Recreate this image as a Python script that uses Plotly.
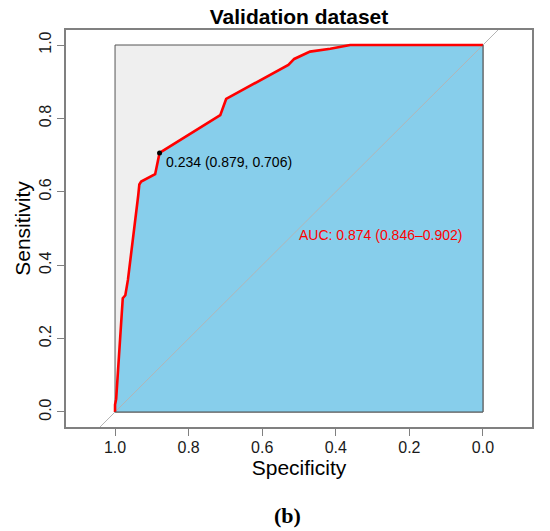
import plotly.graph_objects as go

# ROC curve (specificity, sensitivity)
specificity = [1.0, 1.0, 0.997, 0.979, 0.972, 0.965, 0.937, 0.934, 0.929, 0.891,
               0.879, 0.714, 0.698, 0.529, 0.513, 0.470, 0.415, 0.361, 0.0]
sensitivity = [0.0, 0.02, 0.035, 0.31, 0.318, 0.36, 0.59, 0.62, 0.628, 0.648,
               0.706, 0.809, 0.853, 0.946, 0.962, 0.982, 0.99, 1.0, 1.0]

best_threshold = 0.234
best_spec = 0.879
best_sens = 0.706
auc_value = 0.874
auc_ci = (0.846, 0.902)

tick_vals = [1.0, 0.8, 0.6, 0.4, 0.2, 0.0]
tick_text = ["1.0", "0.8", "0.6", "0.4", "0.2", "0.0"]

x_range = [1.1333, -0.1333]
y_range = [-0.0409, 1.0409]

FONT = "Liberation Sans, Arial, Helvetica, sans-serif"

W, H = 550, 531

fig = go.Figure()

# AUC polygon (area under the curve)
fig.add_trace(go.Scatter(
    x=specificity, y=sensitivity, mode="lines", fill="tozeroy",
    fillcolor="#87CEEB", line=dict(width=0, color="#87CEEB"),
    hoverinfo="skip", showlegend=False))

# identity line (sensitivity = 1 - specificity) clipped to the plot region
fig.add_trace(go.Scatter(
    x=[1 - y_range[0], 1 - y_range[1]],
    y=[y_range[0], y_range[1]],
    mode="lines", line=dict(color="#B4B4B4", width=1),
    hoverinfo="skip", showlegend=False))

# ROC curve
fig.add_trace(go.Scatter(
    x=specificity, y=sensitivity, mode="lines",
    line=dict(color="#FF0000", width=2.6), showlegend=False))

# best threshold point
fig.add_trace(go.Scatter(
    x=[best_spec], y=[best_sens], mode="markers",
    marker=dict(color="black", size=5), showlegend=False))

axis_common = dict(
    showgrid=False, zeroline=False, automargin=False,
    showline=True, linecolor="#808080", linewidth=1.5, mirror=True,
    ticks="outside", ticklen=7, tickwidth=1.2, tickcolor="#808080",
    tickvals=tick_vals, ticktext=tick_text,
    tickfont=dict(family=FONT, size=16, color="#1a1a1a"),
)

fig.update_layout(
    width=W, height=H,
    margin=dict(l=66, r=18, t=30, b=104),
    paper_bgcolor="white", plot_bgcolor="white",
    font=dict(family=FONT, color="black"),
    title=dict(text="<b>Validation dataset</b>", x=0.5, xref="paper",
               y=1 - 17 / H, yanchor="middle", xanchor="center",
               font=dict(family=FONT, size=21, color="black")),
    xaxis=dict(range=x_range, ticklabelstandoff=-2,
               title=dict(text="Specificity", standoff=4,
                          font=dict(family=FONT, size=21, color="black")),
               **axis_common),
    yaxis=dict(range=y_range, tickangle=-90, ticklabelstandoff=0,
               title=dict(text="Sensitivity", standoff=0,
                          font=dict(family=FONT, size=21, color="black")),
               **axis_common),
    shapes=[
        dict(type="rect", xref="x", yref="y", x0=1, x1=0, y0=0, y1=1,
             fillcolor="#EFEFEF", line=dict(color="#555555", width=1),
             layer="below"),
        dict(type="path", xref="x", yref="y", path="M 1 0 L 0 0 L 0 1",
             line=dict(color="#555555", width=1), layer="above"),
    ],
    annotations=[
        dict(x=best_spec, y=best_sens, xref="x", yref="y",
             text=f"{best_threshold:.3f} ({best_spec:.3f}, {best_sens:.3f})",
             showarrow=False, xanchor="left", yanchor="middle",
             xshift=4, yshift=-9,
             font=dict(family=FONT, size=14, color="black")),
        dict(x=0.5, y=0.482, xref="x", yref="y",
             text=f"AUC: {auc_value:.3f} ({auc_ci[0]:.3f}\u2013{auc_ci[1]:.3f})",
             showarrow=False, xanchor="left", yanchor="middle",
             xshift=-2,
             font=dict(family=FONT, size=14, color="#FF0000")),
        dict(x=(287.5 - 66) / 466, y=(427 - 515) / 397, xref="paper", yref="paper",
             text="<b>(b)</b>", showarrow=False, xanchor="center", yanchor="middle",
             font=dict(family="Liberation Serif, Times New Roman, serif", size=22,
                       color="black")),
    ],
)

# remove the browser's default 8px page margin so the 550x531 figure fills the window
fig.write_html("out.html", config={"displayModeBar": False},
               post_script="document.body.style.margin='0';")
